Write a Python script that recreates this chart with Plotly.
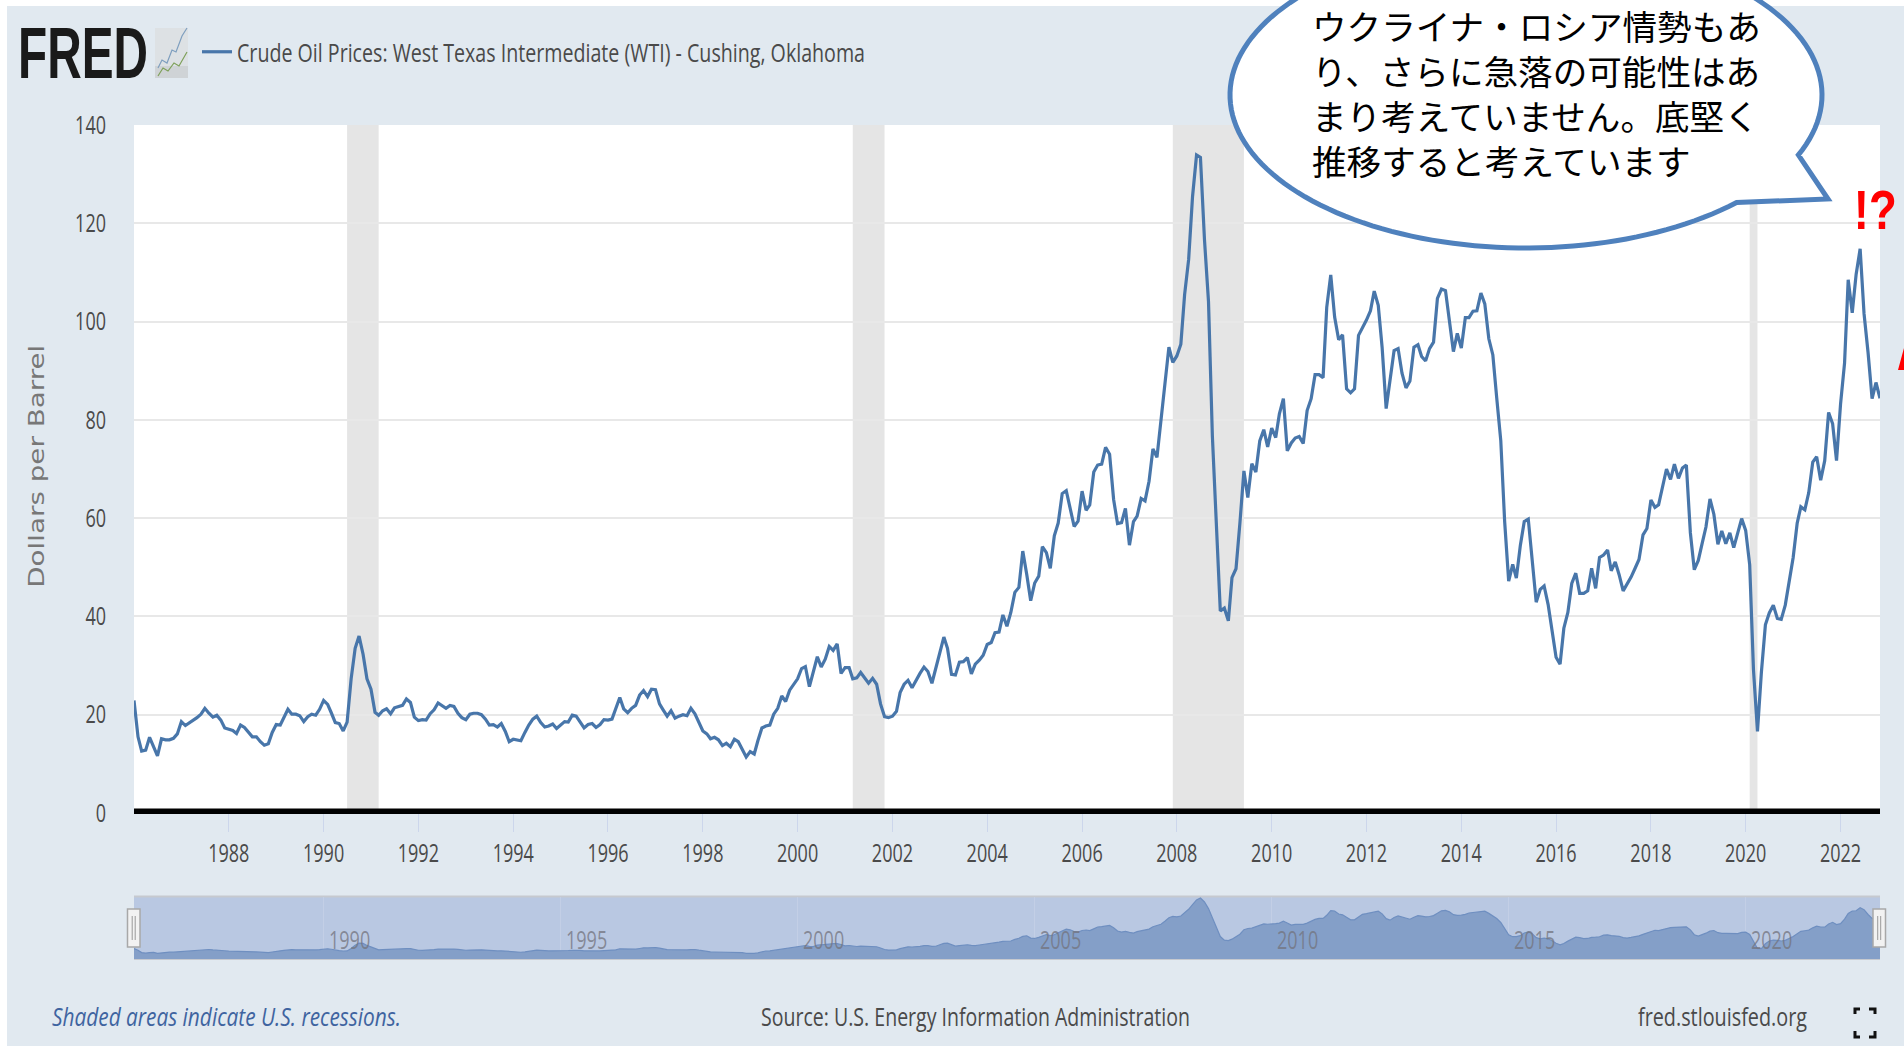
import json
import numpy as np
import pandas as pd
import plotly.graph_objects as go

W, H = 1904, 1046

# ---- data (monthly, dollars per barrel) ----
start_month = "1986-01-01"
y1986 = [22.9,15.5,12.6,12.8,15.4,13.4,11.6,15.1,14.9,14.9,15.2,16.1]
y1987 = [18.6,17.8,18.3,18.7,19.4,20.1,21.3,20.3,19.5,19.9,18.9,17.3]
y1988 = [17.1,16.8,16.2,17.9,17.4,16.5,15.5,15.5,14.5,13.8,14.1,16.4]
y1989 = [18.0,17.9,19.5,21.1,20.1,20.1,19.8,18.6,19.6,20.1,19.9,21.1]
y1990 = [22.9,22.1,20.4,18.4,18.2,16.7,18.5,27.3,33.5,36.0,32.3,27.3]
y1991 = [25.2,20.5,19.9,20.8,21.2,20.2,21.4,21.7,21.9,23.2,22.5,19.5]
y1992 = [18.8,19.0,18.9,20.2,21.0,22.4,21.8,21.3,21.9,21.7,20.3,19.4]
y1993 = [19.0,20.1,20.3,20.3,20.0,19.1,17.9,18.0,17.5,18.2,16.6,14.5]
y1994 = [15.0,14.8,14.7,16.4,17.9,19.1,19.7,18.4,17.5,17.7,18.1,17.2]
y1995 = [18.0,18.6,18.5,19.9,19.7,18.5,17.3,18.0,18.2,17.4,18.0,19.0]
y1996 = [18.9,19.1,21.3,23.5,21.2,20.4,21.3,21.9,24.0,24.9,23.7,25.2]
y1997 = [25.1,22.2,21.0,19.7,20.8,19.3,19.7,20.0,19.8,21.3,20.2,18.3]
y1998 = [16.7,16.1,15.1,15.4,14.9,13.7,14.2,13.5,15.0,14.5,13.0,11.4]
y1999 = [12.5,12.0,14.7,17.3,17.7,17.9,20.1,21.3,23.8,22.7,25.0,26.1]
y2000 = [27.3,29.4,29.8,25.7,28.8,31.8,29.7,31.3,33.9,33.1,34.4,28.4]
y2001 = [29.6,29.6,27.3,27.5,28.6,27.6,26.4,27.4,26.2,22.2,19.6,19.4]
y2002 = [19.7,20.7,24.5,26.2,27.0,25.5,27.0,28.4,29.7,28.8,26.4,29.5]
y2003 = [33.0,35.8,33.5,28.2,28.1,30.7,30.8,31.6,28.3,30.3,31.1,32.1]
y2004 = [34.3,34.7,36.7,36.8,40.3,38.0,40.8,44.9,45.9,53.3,48.5,43.2]
y2005 = [46.8,48.2,54.2,53.0,49.8,56.4,59.0,65.0,65.6,62.3,58.3,59.4]
y2006 = [65.5,61.6,62.7,69.4,70.8,71.0,74.4,73.0,63.8,58.9,59.1,62.0]
y2007 = [54.5,59.3,60.4,64.0,63.5,67.5,74.1,72.4,79.9,85.8,94.8,91.7]
y2008 = [93.0,95.4,105.5,112.6,125.4,133.9,133.4,116.7,104.1,76.6,57.3,41.1]
y2009 = [41.7,39.1,47.9,49.7,59.0,69.6,64.2,71.1,69.4,75.7,78.0,74.5]
y2010 = [78.3,76.4,81.2,84.3,73.7,75.3,76.3,76.6,75.2,81.9,84.3,89.2]
y2011 = [89.2,88.6,102.9,109.5,100.9,96.3,97.3,86.3,85.5,86.3,97.2,98.6]
y2012 = [100.3,102.2,106.2,103.3,94.7,82.3,87.9,94.1,94.5,89.5,86.5,87.9]
y2013 = [94.8,95.3,92.9,92.0,94.5,95.8,104.7,106.6,106.3,100.5,93.9,97.6]
y2014 = [94.6,100.8,100.8,102.1,102.2,105.8,103.6,96.5,93.2,84.4,75.8,59.3]
y2015 = [47.2,50.6,47.8,54.5,59.3,59.8,50.9,42.9,45.5,46.2,42.4,37.2]
y2016 = [31.7,30.3,37.6,40.8,46.7,48.8,44.7,44.7,45.2,49.8,45.7,52.0]
y2017 = [52.5,53.5,49.3,51.1,48.5,45.2,46.6,48.0,49.8,51.6,56.6,57.9]
y2018 = [63.7,62.2,62.7,66.3,70.0,67.9,71.0,68.1,70.2,70.8,57.0,49.5]
y2019 = [51.4,55.0,58.2,63.9,60.8,54.7,57.4,54.8,57.0,54.0,57.0,59.9]
y2020 = [57.5,50.5,29.2,16.6,28.6,38.3,40.7,42.3,39.6,39.4,42.3,47.0]
y2021 = [52.0,59.0,62.3,61.7,65.2,71.4,72.5,67.7,71.7,81.5,79.2,71.7]
y2022 = [83.2,91.6,108.5,101.8,109.6,114.8,101.6,93.7,84.3,87.6,84.4]

values = (y1986+y1987+y1988+y1989+y1990+y1991+y1992+y1993+y1994+y1995+y1996+y1997
          +y1998+y1999+y2000+y2001+y2002+y2003+y2004+y2005+y2006+y2007+y2008+y2009
          +y2010+y2011+y2012+y2013+y2014+y2015+y2016+y2017+y2018+y2019+y2020+y2021+y2022)
dates = pd.date_range(start_month, periods=len(values), freq="MS")
# the navigator strip groups the same monthly series
nav_values = pd.Series(values).rolling(2, min_periods=1).mean().round(1).tolist()

recession_start = ["1990-07-01", "2001-03-01", "2007-12-01", "2020-02-01"]
recession_end   = ["1991-03-01", "2001-11-01", "2009-06-01", "2020-04-01"]

year_ticks = list(range(1988, 2023, 2))
y_ticks = [0, 20, 40, 60, 80, 100, 120, 140]
nav_years = [1990, 1995, 2000, 2005, 2010, 2015, 2020]

series_name = "Crude Oil Prices: West Texas Intermediate (WTI) - Cushing, Oklahoma"
y_title = "Dollars per Barrel"
note_text = "Shaded areas indicate U.S. recessions."
source_text = "Source: U.S. Energy Information Administration"
site_text = "fred.stlouisfed.org"
logo_text = "FRED"
alert_text = "!?"
callout_text = "ウクライナ・ロシア情勢もあ<br>り、さらに急落の可能性はあ<br>まり考えていません。底堅く<br>推移すると考えています"

# the reference's text is horizontally squeezed/stretched: drawn lengths in pixels
text_lengths = {series_name: 628, y_title: 243, note_text: 349, source_text: 429, site_text: 169,
                logo_text: 130, alert_text: 43}
digit_width = 10.3

# ---- helpers: page pixel -> paper fraction ----
def px(x): return x / W
def py(y): return 1 - y / H
def path(points, close=True):
    s = "M" + " L".join(f"{px(a):.5f},{py(b):.5f}" for a, b in points)
    return s + (" Z" if close else "")

SANS = "Open Sans"
BG = "#e1e9f0"
LINE = "#4876aa"
TXT = "#4a4a4a"

fig = go.Figure()
fig.add_trace(go.Scatter(x=dates, y=values, mode="lines", name=series_name,
                         line=dict(color=LINE, width=3.2), xaxis="x", yaxis="y"))
fig.add_trace(go.Scatter(x=dates, y=nav_values, mode="lines", showlegend=False, fill="tozeroy",
                         fillcolor="#849fc8", line=dict(color="#6f8fc0", width=1.2),
                         xaxis="x2", yaxis="y2"))

shapes = []
def rect(x0, y0, x1, y1, fill, line=None, lw=0, layer="above"):
    shapes.append(dict(type="rect", xref="paper", yref="paper", x0=px(x0), x1=px(x1), y0=py(y0), y1=py(y1),
                       fillcolor=fill, line=dict(color=line or fill, width=lw), layer=layer))
def poly(points, fill=None, color="#000", lw=1, close=True, layer="above"):
    shapes.append(dict(type="path", xref="paper", yref="paper", path=path(points, close),
                       fillcolor=fill if fill else "rgba(0,0,0,0)", line=dict(color=color, width=lw), layer=layer))

# white page edge
rect(0, 0, W, 6, "#ffffff", layer="below")
rect(0, 0, 7, H, "#ffffff", layer="below")

# recession bands
for a, b in zip(recession_start, recession_end):
    shapes.append(dict(type="rect", xref="x", yref="y", x0=a, x1=b, y0=0, y1=140,
                       fillcolor="#e5e5e5", line=dict(width=0), layer="below"))

# black baseline
rect(134, 808.5, 1880, 814, "#000000")

# navigator background
rect(134, 896.5, 1880, 959, "#b9c8e2", layer="below")
rect(134, 895.5, 1880, 897.5, "#c6c9cf", layer="below")
rect(134, 958, 1880, 960, "#c6c9cf", layer="below")

# navigator handles
for hx in (127.5, 1873):
    shapes.append(dict(type="rect", xref="paper", yref="paper", x0=px(hx), x1=px(hx + 12.5), y0=py(909), y1=py(947),
                       fillcolor="#f2f2f2", line=dict(color="#a8a8a8", width=1.5), layer="above"))
    for dx in (4.7, 7.7):
        poly([(hx + dx, 916), (hx + dx, 940)], color="#999999", lw=1, close=False)

# FRED logo icon
rect(155, 28, 188, 78, "#dde1e4")
rect(155, 66, 188, 78, "#cfd3d6")
poly([(158, 68), (162, 60), (167, 63), (172, 50), (176, 52), (182, 36), (187, 28)], color="#7f9fbf", lw=1.2, close=False)
poly([(158, 76), (163, 68), (168, 71), (174, 63), (179, 66), (187, 52)], color="#7ea05a", lw=1.2, close=False)

# callout
cx, cy, rx, ry = 1526, 95, 296, 153
tail_a = np.arctan2((155 - cy) / ry, (1798.5 - cx) / rx)
tail_b = np.arctan2((201.7 - cy) / ry, (1735 - cx) / rx)
angles = np.linspace(tail_b, tail_a + 2 * np.pi, 160)
pts = [(cx + rx * np.cos(a), cy + ry * np.sin(a)) for a in angles]
pts += [(1828, 199)]
poly(pts, fill="#ffffff", color="#4f81bd", lw=5)

# red fragment on the right edge
poly([(1898, 370), (1904, 348), (1904, 370)], fill="#ff0000", color="#ff0000", lw=0)

# fullscreen icon
for (a, b, c) in [((1855, 1014), (1855, 1009), (1860, 1009)), ((1869, 1009), (1875, 1009), (1875, 1014)),
                  ((1855, 1031), (1855, 1037), (1860, 1037)), ((1869, 1037), (1875, 1037), (1875, 1031))]:
    poly([a, b, c], color="#111111", lw=3, close=False)

def note(text, x, y, size, color=TXT, family=SANS, xanchor="left", yanchor="middle", align="left", **kw):
    font = dict(size=size, color=color, family=family)
    for k in ("weight", "style"):
        if k in kw:
            font[k] = kw.pop(k)
    return dict(text=text, xref="paper", yref="paper", x=px(x), y=py(y), showarrow=False, xanchor=xanchor,
                yanchor=yanchor, align=align, font=font, **kw)

annotations = [
    note(logo_text, 16, 52.5, 72, color="#1a1a1a", family="Liberation Sans", weight=700),
    note(y_title, 37, 467, 20.5, color="#777777", family="DejaVu Sans", xanchor="center", align="center", textangle=-90),
    note(note_text, 50, 1016, 25, color="#3f64a0", style="italic"),
    note(source_text, 759, 1016, 25),
    note(site_text, 1636, 1016, 25),
    note(callout_text, 1310, -2, 34.6, color="#000000", family="Noto Sans CJK JP", yanchor="top"),
    note(alert_text, 1899, 209, 56, color="#ff0000", family="Liberation Sans", weight=700,
         xanchor="right", align="right"),
]
for yr in nav_years:
    annotations.append(dict(text=str(yr), xref="x2", yref="paper", x=f"{yr}-01-01", y=py(939), xshift=26,
                            showarrow=False, xanchor="center", yanchor="middle",
                            font=dict(size=25, color="rgba(115,115,125,0.75)", family=SANS)))

tick_font = dict(size=25, color=TXT, family=SANS)
fig.update_layout(
    template="none",
    width=W, height=H, margin=dict(l=0, r=0, t=0, b=0, pad=0), autosize=False,
    paper_bgcolor=BG, plot_bgcolor="#ffffff", hovermode=False,
    shapes=shapes, annotations=annotations,
    legend=dict(x=px(197), y=py(52), xanchor="left", yanchor="middle", bgcolor="rgba(0,0,0,0)", borderwidth=0,
                itemwidth=30, font=dict(size=25, color=TXT, family=SANS)),
    xaxis=dict(domain=[px(134), px(1880)], range=["1986-01-01", "2022-11-01"], anchor="y", automargin=False,
               tickvals=[f"{y}-01-01" for y in year_ticks], ticktext=[str(y) for y in year_ticks],
               ticks="outside", ticklen=18, tickwidth=1, tickcolor="#ccd6eb", showgrid=False, zeroline=False,
               showline=False, tickfont=tick_font),
    yaxis=dict(domain=[py(813), py(125)], range=[0, 140], anchor="x", tickvals=y_ticks, automargin=False,
               ticks="outside", ticklen=22, tickcolor=BG, tickwidth=1, showgrid=True, gridcolor="#e8e8e8",
               gridwidth=2, zeroline=False, showline=False, tickfont=tick_font),
    xaxis2=dict(domain=[px(134), px(1880)], range=["1986-01-01", "2022-11-01"], anchor="y2", automargin=False,
                tickvals=[f"{y}-01-01" for y in nav_years], showticklabels=False, showgrid=True,
                gridcolor="#c3cfe6", gridwidth=1, zeroline=False, showline=False),
    yaxis2=dict(domain=[py(959), py(896.5)], range=[0, 137], anchor="x2", automargin=False, showticklabels=False,
                showgrid=False, zeroline=False, showline=False),
)

squeeze_js = """
document.body.style.margin='0';document.body.style.overflow='hidden';
var LENS = %s, DIGIT = %s;
function squeeze(){
  document.querySelectorAll('svg text').forEach(function(t){
    var s = t.textContent, target = LENS[s];
    if (target === undefined && /^[0-9]+$/.test(s)) target = s.length * DIGIT;
    if (target) { t.setAttribute('lengthAdjust','spacingAndGlyphs'); t.setAttribute('textLength', target); }
  });
}
squeeze(); setTimeout(squeeze, 0); setTimeout(squeeze, 200);
""" % (json.dumps(text_lengths), digit_width)

fig.write_html("out.html", config={"displayModeBar": False}, post_script=squeeze_js)
